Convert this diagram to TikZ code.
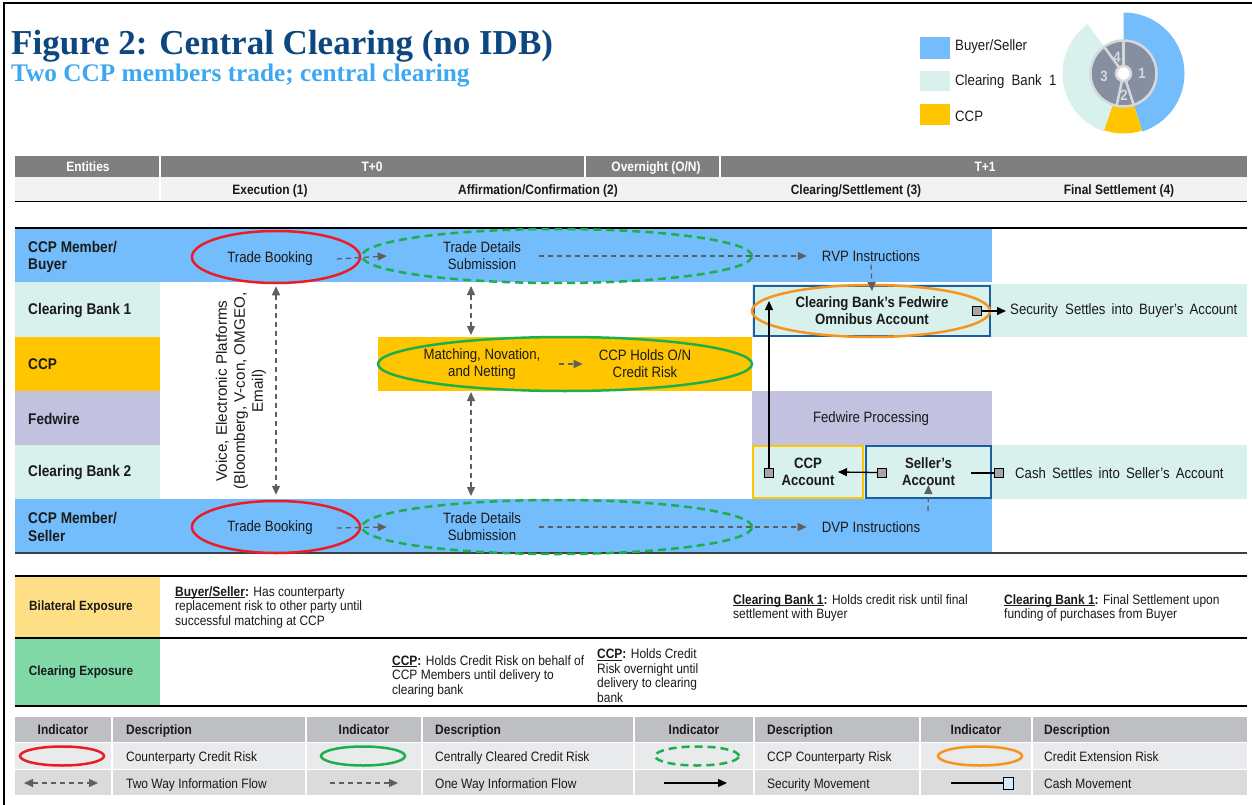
\documentclass[tikz,border=0pt]{standalone}
\usepackage{fontspec}
\setmainfont{Liberation Sans}[FakeStretch=0.88]
\newfontfamily\vfont{Liberation Sans}
\newfontfamily\titlefont{Liberation Serif}
\usetikzlibrary{shapes.geometric,arrows.meta}
\definecolor{cblue}{HTML}{74BDFD}
\definecolor{cmint}{HTML}{D8F1EC}
\definecolor{cyel}{HTML}{FFC600}
\definecolor{clav}{HTML}{C2C2E0}
\definecolor{chead}{HTML}{7F7F7F}
\definecolor{csub}{HTML}{F2F2F2}
\definecolor{cdkblue}{HTML}{1B5D9E}
\definecolor{cred}{HTML}{EC1C24}
\definecolor{cgreen}{HTML}{1CAF4E}
\definecolor{corange}{HTML}{F7941D}
\definecolor{carr}{HTML}{5F5F5F}
\definecolor{ctitle}{HTML}{0D477F}
\definecolor{csubt}{HTML}{3DA8F2}
\definecolor{cbil}{HTML}{FFDF85}
\definecolor{cclr}{HTML}{7FD8A6}
\definecolor{clgh}{HTML}{BEBFC2}
\definecolor{clgone}{HTML}{E9EAEC}
\definecolor{clgtwo}{HTML}{DADBDD}
\definecolor{cdisk}{HTML}{858FA0}
\definecolor{cring}{HTML}{D6D8DC}
\definecolor{csq}{HTML}{A6A6A6}
\definecolor{csqb}{HTML}{D6E9F8}
\definecolor{ctxt}{HTML}{1A1A1A}
\newcommand\myul[1]{\setbox0\hbox{#1}\rlap{\rule[-1.8pt]{\wd0}{0.9pt}}\box0}
\tikzset{
  body/.style={font=\fontsize{15}{17}\selectfont, text=ctxt, align=center, inner sep=0pt},
  boxtxt/.style={font=\fontsize{15}{17}\selectfont\bfseries, text=ctxt, align=center, inner sep=0pt},
  rowlbl/.style={font=\fontsize{15.5}{17.5}\selectfont\bfseries, text=ctxt, anchor=west, align=left, inner sep=0pt},
  hd/.style={font=\fontsize{13.6}{16}\selectfont\bfseries, inner sep=0pt, anchor=base},
  expo/.style={font=\fontsize{13.6}{14.5}\selectfont, text=ctxt, anchor=west, align=left, inner sep=0pt},
  explbl/.style={font=\fontsize{13.4}{16}\selectfont\bfseries, text=ctxt, inner sep=0pt},
  lg/.style={font=\fontsize{13.6}{16}\selectfont, text=ctxt, anchor=base west, inner sep=0pt},
  lgh/.style={font=\fontsize{13.6}{16}\selectfont\bfseries, text=ctxt, inner sep=0pt, anchor=base},
  darr/.style={draw=carr, line width=1.3pt, dash pattern=on 5pt off 4pt, -{Triangle[length=9pt,width=8pt]}},
  dbarr/.style={draw=carr, line width=1.3pt, dash pattern=on 5pt off 4pt, {Triangle[length=9pt,width=8pt]}-{Triangle[length=9pt,width=8pt]}},
  secarr/.style={draw=black, line width=1.3pt, -{Triangle[length=9pt,width=8pt]}},
  sqr/.style={draw=black, fill=csq, line width=1pt, minimum size=9pt, inner sep=0pt},
  ell/.style={ellipse, inner sep=0pt, line width=2.5pt},
  redell/.style={ell, draw=cred, minimum width=168pt, minimum height=52pt},
  gdell/.style={ell, draw=cgreen, dash pattern=on 8pt off 5pt, minimum width=390pt, minimum height=54pt},
  accbox/.style={boxtxt, line width=2pt, fill=cmint},
  lgell/.style={ell, minimum width=84pt, minimum height=19pt},
  sep/.style={draw=white, line width=1.5pt},
  rule/.style={draw=black, line width=2pt}
}
\begin{document}
\begin{tikzpicture}[x=1pt,y=-1pt]
\useasboundingbox (0,0) rectangle (1252,805);
\fill[white] (0,0) rectangle (1252,805);
% frame
\draw[black, line width=2.5pt] (4,805) -- (4,3) -- (1252,3);
% title
\node[anchor=base west, inner sep=0pt, font=\titlefont\fontsize{35}{38}\selectfont\bfseries, text=ctitle] (title) at (11,55) {Figure 2: Central Clearing (no IDB)};
\node[anchor=base west, inner sep=0pt, font=\titlefont\fontsize{25.3}{28}\selectfont\bfseries, text=csubt] (subtitle) at (11,82) {Two CCP members trade; central clearing};
% top legend
\fill[cblue] (920,37.5) rectangle (950,59);
\fill[cmint] (920,71) rectangle (950,91.5);
\fill[cyel] (920,104) rectangle (950,125);
\node[lg, anchor=west, font=\fontsize{15}{17}\selectfont] (kb) at (955,46.7) {Buyer/Seller};
\node[lg, anchor=west, font=\fontsize{15}{17}\selectfont] (kc) at (955,81.7) {Clearing\ \ Bank\ \ 1};
\node[lg, anchor=west, font=\fontsize{15}{17}\selectfont] (ky) at (955,116.7) {CCP};
% donut
\begin{scope}[shift={(1123.5,73.5)}, yscale=-1]
  \fill[cblue] (90:61) arc[start angle=90, end angle=-72, radius=61] -- (-72:33) arc[start angle=-72, end angle=90, radius=33] -- cycle;
  \fill[cyel] (-72:60) arc[start angle=-72, end angle=-109, radius=60] -- (-109:33) arc[start angle=-109, end angle=-72, radius=33] -- cycle;
  \fill[cmint] (-109:61) arc[start angle=-109, end angle=-234, radius=61] -- (126:33) arc[start angle=126, end angle=251, radius=33] -- cycle;
  \fill[cdisk] (0,0) circle[radius=33];
  \draw[cring, line width=2.5pt] (0,0) circle[radius=33];
  \foreach \a in {90,-72,-102,126} \draw[cring, line width=2.5pt] (\a:8) -- (\a:33);
  \fill[white] (0,0) circle[radius=7];
  \draw[cring, line width=2.5pt] (0,0) circle[radius=7.5];
  \node[font=\fontsize{15}{17}\selectfont\bfseries, text=cring] (d1) at (18.5,0) {1};
  \node[font=\fontsize{15}{17}\selectfont\bfseries, text=cring] (d2) at (0.5,-22) {2};
  \node[font=\fontsize{15}{17}\selectfont\bfseries, text=cring] (d3) at (-19.5,-2.5) {3};
  \node[font=\fontsize{15}{17}\selectfont\bfseries, text=cring] (d4) at (-6.5,16.5) {4};
\end{scope}
% header
\fill[chead] (15,156) rectangle (1247,177);
\fill[csub] (15,177) rectangle (1247,201);
\draw[sep] (160,156) -- (160,201);
\draw[sep] (585,156) -- (585,177);
\draw[sep] (720,156) -- (720,177);
\draw[black, line width=1.5pt] (15,201.5) -- (1247,201.5);
\node[hd, white] (hEnt) at (88,171.3) {Entities};
\node[hd, white] (hT0) at (372,171.3) {T+0};
\node[hd, white] (hON) at (656,171.3) {Overnight (O/N)};
\node[hd, white] (hT1) at (985,171.3) {T+1};
\node[hd, text=ctxt] (hEx) at (270,194.8) {Execution (1)};
\node[hd, text=ctxt] (hAf) at (538,194.8) {Affirmation/Confirmation (2)};
\node[hd, text=ctxt] (hCS) at (856,194.8) {Clearing/Settlement (3)};
\node[hd, text=ctxt] (hFS) at (1119,194.8) {Final Settlement (4)};
% grid bands
\fill[cblue] (15,228) rectangle (992,282);
\fill[cmint] (15,282) rectangle (160,337);
\fill[cyel] (15,337) rectangle (160,391);
\fill[clav] (15,391) rectangle (160,445);
\fill[cmint] (15,445) rectangle (160,499);
\fill[cblue] (15,499) rectangle (992,553);
\fill[cmint] (752,284) rectangle (1247,337);
\fill[cyel] (378,337) rectangle (752,391);
\fill[clav] (752,391) rectangle (992,445);
\fill[cmint] (752,445) rectangle (1247,499);
\draw[black, line width=1.5pt] (15,228) -- (1247,228);
\draw[black!75, line width=1.5pt] (15,553) -- (1247,553);
% row labels
\node[rowlbl] (lBuy) at (28,257) {CCP Member/\\Buyer};
\node[rowlbl] (lCB1) at (28,310.5) {Clearing Bank 1};
\node[rowlbl] (lCCP) at (28,364.5) {CCP};
\node[rowlbl] (lFed) at (28,418.5) {Fedwire};
\node[rowlbl] (lCB2) at (28,472.5) {Clearing Bank 2};
\node[rowlbl] (lSel) at (28,527) {CCP Member/\\Seller};
% boxes
\node[accbox, draw=cdkblue, minimum width=236pt, minimum height=50pt] (omni) at (872,311) {Clearing Bank’s Fedwire\\Omnibus Account};
\node[ell, draw=corange, minimum width=238pt, minimum height=52pt] (oell) at (871,311) {};
\node[body] (fedp) at (871,419) {Fedwire Processing};
\node[accbox, draw=cyel, minimum width=110pt, minimum height=52pt] (cacc) at (808,472) {CCP\\Account};
\node[accbox, draw=cdkblue, minimum width=125pt, minimum height=52pt] (sacc) at (928.5,472) {Seller’s\\Account};
% buyer row
\node[redell] (rb1) at (276,257) {};
\node[gdell] (gb1) at (557,256) {};
\node[body] (tb1) at (270,259) {Trade Booking};
\node[body] (td1) at (482,256) {Trade Details\\Submission};
\node[body] (rvp) at (871,256) {RVP Instructions};
% ccp row
\node[ell, draw=cgreen, minimum width=374pt, minimum height=54pt] (gc) at (565,364) {};
\node[body] (mnn) at (482,364) {Matching, Novation,\\and Netting};
\node[body] (hold) at (645,364) {CCP Holds O/N\\Credit Risk};
% seller row
\node[redell] (rs1) at (276,527) {};
\node[gdell] (gs1) at (557,527) {};
\node[body] (ts1) at (270,528) {Trade Booking};
\node[body] (tds) at (482,527) {Trade Details\\Submission};
\node[body] (dvp) at (871,527) {DVP Instructions};
% vertical text
\node[font=\vfont\fontsize{15.2}{18}\selectfont, text=ctxt, align=center, rotate=90, inner sep=0pt] (voice) at (241,391) {Voice, Electronic Platforms\\(Bloomberg, V-con, OMGEO,\\Email)};
% right side texts
\node[body, anchor=west] (sect) at (1010,311) {Security\ \ Settles\ \,into\ \,Buyer’s\ \,Account};
\node[body, anchor=west] (cash) at (1015,473) {Cash\ \,Settles\ \,into\ \,Seller’s\ \,Account};
% squares
\node[sqr] (sqo) at (977,311) {};
\node[sqr] (sqc) at (769,472.5) {};
\node[sqr] (sqs) at (882,472.5) {};
\node[sqr] (sqk) at (999,473) {};
% coordinates
\coordinate (va1) at (471,286);
\coordinate (vb1) at (471,335);
\coordinate (va2) at (471,392);
\coordinate (vb2) at (471,496);
\coordinate (otip) at (769,301);
\coordinate (dvpup) at (928,511);
% arrows
\draw[darr] ([xshift=24pt]tb1.east) -- ([xshift=-56pt]td1.west);
\draw[darr] ([xshift=18pt]td1.east) -- ([xshift=-15pt]rvp.west);
\draw[darr] ([xshift=24pt]ts1.east) -- ([xshift=-56pt]tds.west);
\draw[darr] ([xshift=18pt]tds.east) -- ([xshift=-15pt]dvp.west);
\draw[darr] ([yshift=-3pt]rvp.south) -- ([yshift=-6pt]omni.north);
\draw[darr] (dvpup) -- ([yshift=14pt]sacc.south);
\draw[darr] ([xshift=18pt]mnn.east) -- ([xshift=-16pt]hold.west);
\draw[dbarr] ([yshift=-2pt]rb1.south) -- ([yshift=5pt]rs1.north);
\draw[dbarr] (va1) -- (vb1);
\draw[dbarr] (va2) -- (vb2);
\draw[secarr] (sqc.north) -- (otip);
\draw[secarr] (sqs.west) -- ([xshift=-2pt]cacc.east -| 840,0);
\draw[secarr] (sqo.east) -- ([xshift=-4pt]sect.west);
\draw[black, line width=1.3pt] (sqk.west) -- ++(-23,0) coordinate (cashend);
\node[sqr] at (sqk) {};
% exposure table
\fill[cbil] (15,576) rectangle (160,637);
\fill[cclr] (15,639) rectangle (160,705);
\draw[rule] (15,575.5) -- (1247,575.5);
\draw[rule] (15,638) -- (1247,638);
\draw[rule] (15,706) -- (1247,706);
\node[explbl] (bil) at (81,607) {Bilateral Exposure};
\node[explbl] (clr) at (81,672.5) {Clearing Exposure};
\node[expo] (ex1) at (175,607) {\textbf{\myul{Buyer/Seller}:} Has counterparty\\replacement risk to other party until\\successful matching at CCP};
\node[expo] (ex2) at (392,676) {\textbf{\myul{CCP}:} Holds Credit Risk on behalf of\\CCP Members until delivery to\\clearing bank};
\node[expo] (ex3) at (597,675.5) {\textbf{\myul{CCP}:} Holds Credit\\Risk overnight until\\delivery to clearing\\bank};
\node[expo] (ex4) at (733,608) {\textbf{\myul{Clearing Bank 1}:} Holds credit risk until final\\settlement with Buyer};
\node[expo] (ex5) at (1004,608) {\textbf{\myul{Clearing Bank 1}:} Final Settlement upon\\funding of purchases from Buyer};
% indicator legend
\fill[clgh] (15,717) rectangle (1247,742);
\fill[clgone] (15,743) rectangle (1247,769);
\fill[clgtwo] (15,770) rectangle (1247,795);
\foreach \x in {112,306,422,634,754,920,1032} \draw[sep, line width=2pt] (\x,717) -- (\x,795);
\draw[white, line width=1.5pt] (15,742.5) -- (1247,742.5);
\draw[white, line width=1.5pt] (15,769.5) -- (1247,769.5);
\node[lgh] (ih1) at (63,734.5) {Indicator};
\node[lgh] (ih2) at (364,734.5) {Indicator};
\node[lgh] (ih3) at (694,734.5) {Indicator};
\node[lgh] (ih4) at (976,734.5) {Indicator};
\node[lgh, anchor=base west] (dh1) at (126,734.5) {Description};
\node[lgh, anchor=base west] (dh2) at (435,734.5) {Description};
\node[lgh, anchor=base west] (dh3) at (767,734.5) {Description};
\node[lgh, anchor=base west] (dh4) at (1044,734.5) {Description};
\node[lgell, draw=cred] (le1) at (62,756) {};
\node[lgell, draw=cgreen] (le2) at (363,756) {};
\node[lgell, draw=cgreen, dash pattern=on 8pt off 5pt] (le3) at (697,756) {};
\node[lgell, draw=corange] (le4) at (980,756) {};
\node[lg] (ld1) at (126,761) {Counterparty Credit Risk};
\node[lg] (ld2) at (435,761) {Centrally Cleared Credit Risk};
\node[lg] (ld3) at (767,761) {CCP Counterparty Risk};
\node[lg] (ld4) at (1044,761) {Credit Extension Risk};
\coordinate (la1) at (24,783); \coordinate (lb1) at (98,783);
\coordinate (la2) at (330,783); \coordinate (lb2) at (398,783);
\coordinate (la3) at (664,783); \coordinate (lb3) at (727,783);
\coordinate (la4) at (951,783);
\draw[dbarr] (la1) -- (lb1);
\draw[darr] (la2) -- (lb2);
\draw[secarr] (la3) -- (lb3);
\node[draw=black, fill=csqb, line width=1pt, minimum width=10pt, minimum height=12pt, inner sep=0pt] (lsq) at (1008,783) {};
\draw[black, line width=1.3pt] (la4) -- (lsq.west);
\node[lg] (lt1) at (126,788) {Two Way Information Flow};
\node[lg] (lt2) at (435,788) {One Way Information Flow};
\node[lg] (lt3) at (767,788) {Security Movement};
\node[lg] (lt4) at (1044,788) {Cash Movement};
\end{tikzpicture}
\end{document}
